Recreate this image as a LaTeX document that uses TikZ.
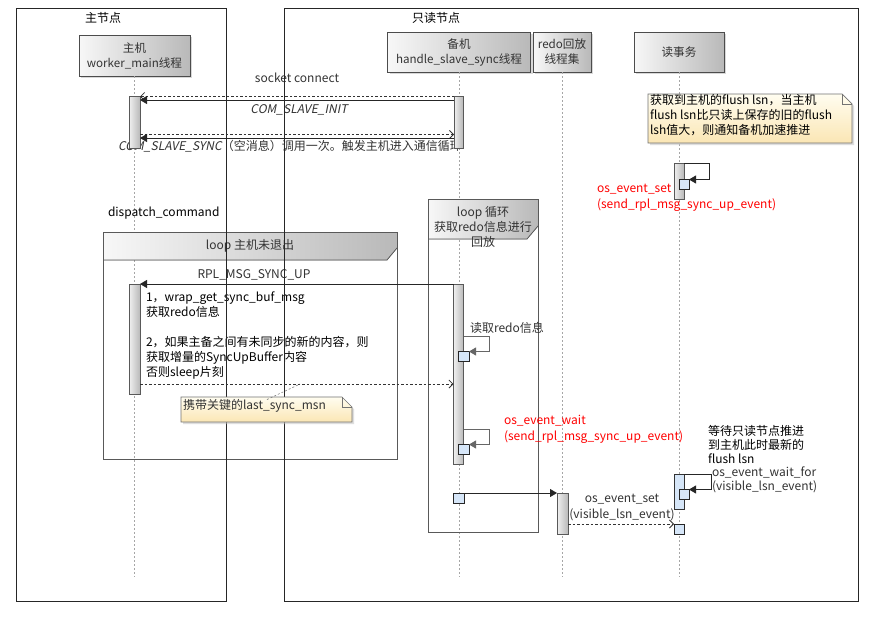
\documentclass[tikz,border=0pt]{standalone}
\usepackage{fontspec}
\setmainfont{Noto Sans CJK SC}
\newfontfamily\slantf{Noto Sans CJK SC}[FakeSlant=0.2]
\usetikzlibrary{arrows.meta,shadows,calc}
\definecolor{sqblue}{HTML}{D6E6F8}
\definecolor{notetop}{HTML}{FFFDF0}
\definecolor{notebot}{HTML}{FBE6B4}
\begin{document}
\begin{tikzpicture}[x=1pt,y=-1pt,
  every node/.style={inner sep=0pt,outer sep=0pt},
  txt/.style={font=\fontsize{12}{14}\selectfont,text=black!80},
  redtxt/.style={font=\fontsize{12}{16}\selectfont,text=red,align=left},
  frame/.style={draw=black!85,line width=0.8pt},
  loopline/.style={draw=black!65,line width=0.8pt},
  part/.style={draw=black!70,line width=0.8pt,left color=gray!6,right color=gray!55,
     drop shadow={shadow xshift=2pt,shadow yshift=-2pt,fill=gray!60},
     align=center,font=\fontsize{11.6}{15}\selectfont,text=black!80},
  life/.style={draw=gray!70,line width=0.6pt,dash pattern=on 2pt off 2pt},
  act/.style={draw=black!65,line width=0.7pt,left color=gray!12,right color=gray!55},
  actb/.style={draw=black!80,line width=0.8pt,fill=sqblue},
  sq/.style={draw=black!85,line width=0.8pt,fill=sqblue},
  msg/.style={draw=black!85,line width=0.8pt,-{Triangle[length=7pt,width=8pt]}},
  gmsg/.style={draw=black!60,line width=0.8pt,-{Triangle[length=7pt,width=8pt]}},
  amsg/.style={draw=black!80,line width=0.8pt,dash pattern=on 2.5pt off 2pt,-{Straight Barb[length=4pt,width=8pt]}},
  notelink/.style={draw=black!50,line width=0.6pt,dash pattern=on 2pt off 2pt},
  noteshape/.style={draw=black!55,line width=0.7pt,top color=notetop,bottom color=notebot,
     drop shadow={shadow xshift=2pt,shadow yshift=-2pt,fill=gray!50}}
]
\useasboundingbox (0,0) rectangle (875,616);
\fill[white] (0,0) rectangle (875,616);

% participants and lifelines
\node[part,minimum width=111,minimum height=41] (p1) at (134.5,55.5) {主机\\worker\_main线程};
\node[part,minimum width=143,minimum height=40] (p2) at (459,52) {备机\\handle\_slave\_sync线程};
\node[part,minimum width=58,minimum height=40] (p3) at (562,52) {redo回放\\线程集};
\node[part,minimum width=90,minimum height=40] (p4) at (679,52) {读事务};
\draw[life] (p1.south) -- (p1.south |- 0,577);
\draw[life] (p2.south) -- (p2.south |- 0,577);
\draw[life] (p3.south) -- (p3.south |- 0,577);
\draw[life] (p4.south) -- (p4.south |- 0,577);

% loop frames
\fill[left color=gray!6,right color=gray!55] (103,232) -- (397,232) -- (397,248) -- (387,260) -- (103,260) -- cycle;
\draw[loopline] (103,232) rectangle (397,459);
\draw[loopline] (397,248) -- (387,260) -- (103,260);
\node[txt] (l1) at (250,246) {loop 主机未退出};

\fill[left color=gray!6,right color=gray!55] (428,199) -- (538,199) -- (538,226) -- (527,239) -- (428,239) -- cycle;
\draw[loopline] (428,199) rectangle (538,532);
\draw[loopline] (538,226) -- (527,239) -- (428,239);
\node[txt,align=center,font=\fontsize{12}{15}\selectfont] (l2) at (483,227) {loop 循环\\获取redo信息进行\\回放};

% texts on messages (drawn under activations)
\node[txt] (m1) at (297,78) {socket connect};
\node[txt] (m2) at (299,110) {\slantf COM\_SLAVE\_INIT};
\node[txt,anchor=west] (m3) at (118,146) {{\slantf COM\_SLAVE\_SYNC}（空消息）调用一次。触发主机进入通信循环};
\node[txt,text=black,anchor=west] (dc) at (108,213) {dispatch\_command};
\node[txt] (m4) at (254,275) {RPL\_MSG\_SYNC\_UP};
\node[txt,text=black,anchor=north west,align=left,font=\fontsize{12}{15}\selectfont] (tb) at (146,292)
  {1，wrap\_get\_sync\_buf\_msg\\获取redo信息\\[15pt]2，如果主备之间有未同步的新的内容，则\\获取增量的SyncUpBuffer内容\\否则sleep片刻};
\node[txt,anchor=west] (rd) at (470,328) {读取redo信息};
\node[redtxt,anchor=north west] (r1) at (597,184) {os\_event\_set\\(send\_rpl\_msg\_sync\_up\_event)};
\node[redtxt,anchor=north west] (r2) at (504,415) {os\_event\_wait\\(send\_rpl\_msg\_sync\_up\_event)};
\node[txt,align=center,font=\fontsize{12}{16}\selectfont] (m5) at (622,507) {os\_event\_set\\(visible\_lsn\_event)};
\node[txt,anchor=north west,align=left,font=\fontsize{12}{14}\selectfont] (m6) at (712,467) {os\_event\_wait\_for\\(visible\_lsn\_event)};
\node[txt,text=black,anchor=north west,align=left,font=\fontsize{12}{14}\selectfont] (wt) at (708,425) {等待只读节点推进\\到主机此时最新的\\flush lsn};

% outer frames
\draw[frame] (16,8) rectangle (226,601);
\draw[frame] (284,8) rectangle (858,601);
\node[txt,text=black] (t1) at (103,18) {主节点};
\node[txt,text=black] (t2) at (436,18) {只读节点};

% activations
\node[act,minimum width=11,minimum height=52] (a1) at (134.5,122) {};
\node[act,minimum width=9,minimum height=52] (a2) at (458.5,122) {};
\node[act,minimum width=11,minimum height=110] (a3) at (134.5,339) {};
\node[act,minimum width=10,minimum height=180] (a4) at (458.5,374) {};
\node[act,minimum width=10,minimum height=36] (a5) at (679,181) {};
\node[act,minimum width=11,minimum height=41] (a6) at (562.5,513.5) {};
\node[actb,minimum width=10,minimum height=35] (a7) at (679,491.5) {};

% squares
\node[sq,minimum width=11,minimum height=10] (s1) at (463.5,356) {};
\node[sq,minimum width=11,minimum height=10] (s2) at (463.5,449) {};
\node[sq,minimum width=10,minimum height=10] (s3) at (684,184) {};
\node[sq,minimum width=11,minimum height=10] (s4) at (458.5,498) {};
\node[sq,minimum width=10,minimum height=10] (s5) at (684,494) {};
\node[sq,minimum width=10,minimum height=10] (s6) at (679,529) {};

% messages
\draw[amsg] (a2.west |- 0,96.5) -- (a1.east |- 0,96.5);
\draw[msg] (a2.west |- 0,100) -- (a1.east |- 0,100);
\draw[amsg] (a1.east |- 0,134.5) -- (a2.west |- 0,134.5);
\draw[msg] (a2.west |- 0,138) -- (a1.east |- 0,138);
\draw[msg] (a4.west |- 0,284) -- (a3.east |- 0,284);
\draw[amsg] (a3.east |- 0,384) -- (a4.west |- 0,384);
\draw[gmsg] (a4.east |- 0,336) -- (489,336) -- (489,351.5) -- (s1.east |- 0,351.5);
\draw[gmsg] (a4.east |- 0,429) -- (489,429) -- (489,444.5) -- (s2.east |- 0,444.5);
\draw[msg] (a5.north east) -- (709,163) -- (709,179.5) -- (s3.east |- 0,179.5);
\draw[msg] (s4.north east) -- (a6.north west);
\draw[amsg] (a6.east |- 0,524) -- (s6.north west);
\draw[msg] (a7.north east) -- (711,474) -- (711,489.5) -- (s5.east |- 0,489.5);

% note 1
\path[noteshape] (181,397) -- (342,397) -- (352,407) -- (352,422) -- (181,422) -- cycle;
\draw[draw=black!55,line width=0.7pt] (342,397) -- (342,407) -- (352,407);
\node[txt,anchor=west] (n1) at (183,406) {携带关键的last\_sync\_msn};
\coordinate (n1c) at (300,384);
\draw[notelink] (n1.north -| 267,0) -- (n1c);

% note 2
\path[noteshape] (648,94) -- (842,94) -- (852,104) -- (852,143) -- (648,143) -- cycle;
\draw[draw=black!55,line width=0.7pt] (842,94) -- (842,104) -- (852,104);
\node[txt,text=black,anchor=north west,align=left,font=\fontsize{12}{15}\selectfont] (n2) at (650,94)
  {获取到主机的flush lsn，当主机\\flush lsn比只读上保存的旧的flush\\lsh值大，则通知备机加速推进};
\end{tikzpicture}
\end{document}
